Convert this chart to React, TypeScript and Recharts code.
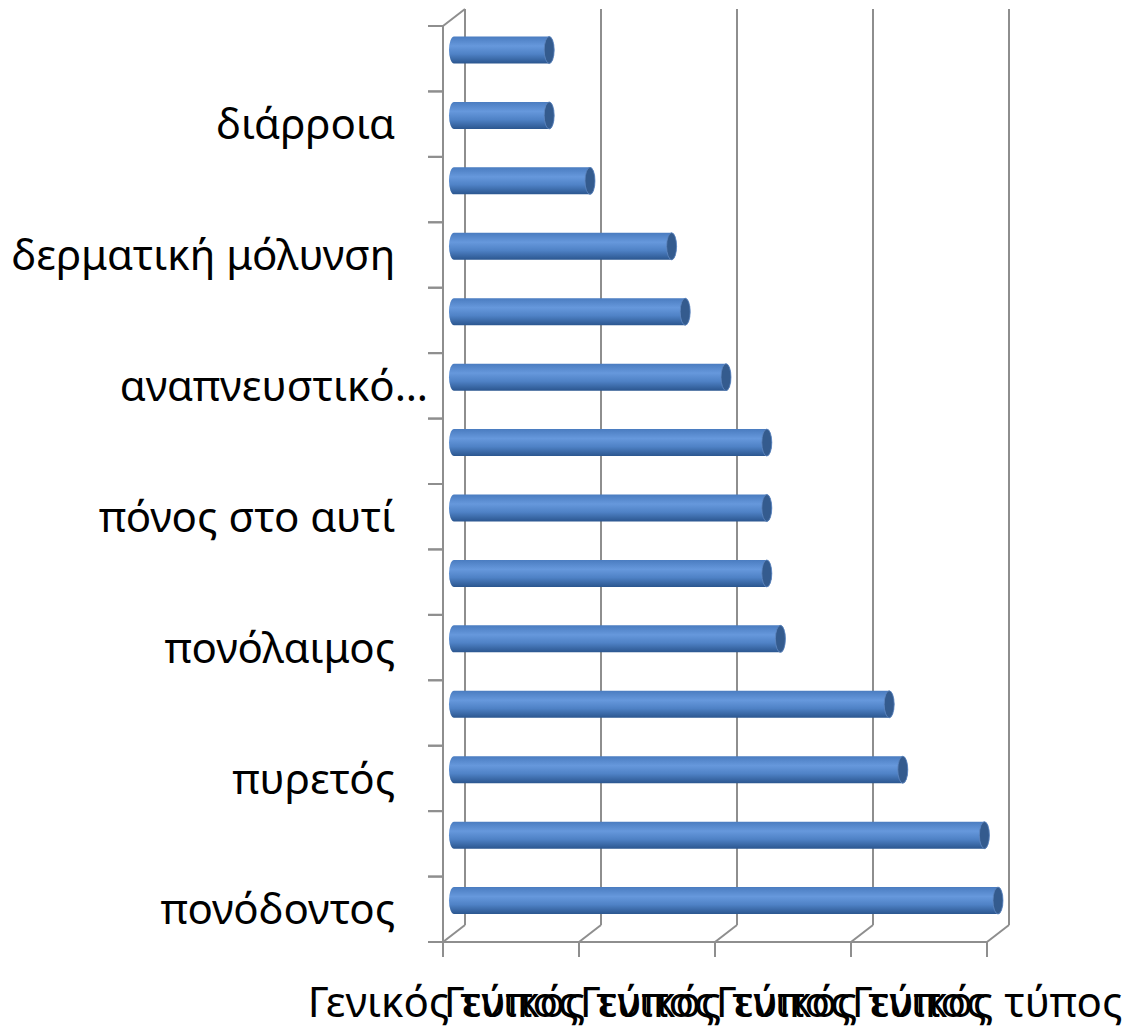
import React from 'react';
import { BarChart, Bar, XAxis, YAxis, CartesianGrid } from 'recharts';

// categories bottom to top, as in the sheet; null = label that Excel skipped
const categories: (string | null)[] = [
  'πονόδοντος\u00a0\u00a0\u00a0',
  null,
  'πυρετός\u00a0\u00a0\u00a0',
  null,
  'πονόλαιμος\u00a0\u00a0\u00a0',
  null,
  'πόνος στο αυτί\u00a0\u00a0\u00a0',
  null,
  'αναπνευστικό…',
  null,
  'δερματική μόλυνση\u00a0\u00a0\u00a0',
  null,
  'διάρροια\u00a0\u00a0\u00a0',
  null,
];
const values = [40, 39, 33, 32, 24, 23, 23, 23, 20, 17, 16, 10, 7, 7];
const xTicks = [0, 10, 20, 30, 40];
const xTickLabel = 'Γενικός τύπος';

const data = values.map((value, id) => ({ id, value }));

const FONT = '"Noto Sans", sans-serif';
const GRID = '#8e8e8e';
// 3d depth of the walls, and half of it for the bars
const DX = 22;
const DY = -17;

const gridLine = (p: any) => {
  const { x1, y1, y2, index } = p;
  return (
    <g key={`v-${index}`}>
      <line x1={x1 + DX} y1={y1 + DY} x2={x1 + DX} y2={y2 + DY} stroke={GRID} strokeWidth={2} />
      <line x1={x1} y1={y2} x2={x1 + DX} y2={y2 + DY} stroke={GRID} strokeWidth={2} />
      {index === 0 && (
        <line x1={x1} y1={y1} x2={x1 + DX} y2={y1 + DY} stroke={GRID} strokeWidth={2} />
      )}
    </g>
  );
};

const CategoryTick = (props: any) => {
  const { x, y, payload } = props;
  const half = payload.offset ?? 32.7;
  const label = categories[payload.value];
  return (
    <g>
      <line x1={x} y1={y - half} x2={x + 15} y2={y - half} stroke={GRID} strokeWidth={2} />
      <line x1={x} y1={y + half} x2={x + 15} y2={y + half} stroke={GRID} strokeWidth={2} />
      {label && (
        <text x={x} y={y} dy="0.36em" textAnchor="end" fill="#000" fontSize={42} fontFamily={FONT}>
          {label}
        </text>
      )}
    </g>
  );
};

const Cylinder = (props: any) => {
  const { x, y, width, height } = props;
  const rx = 5;
  const x0 = x + DX / 2;
  const x1 = x + width + DX / 2;
  const top = y + DY / 2;
  const bot = top + height;
  const ry = height / 2;
  const d = `M${x0},${top} L${x1},${top} A${rx},${ry} 0 0 1 ${x1},${bot} L${x0},${bot} A${rx},${ry} 0 0 1 ${x0},${top} Z`;
  return (
    <g>
      <defs>
        <linearGradient id="barGrad" x1="0" y1="0" x2="0" y2="1">
          <stop offset="0%" stopColor="#4a7cc0" />
          <stop offset="35%" stopColor="#6698dc" />
          <stop offset="65%" stopColor="#4f82c6" />
          <stop offset="100%" stopColor="#2b568f" />
        </linearGradient>
      </defs>
      <path d={d} fill="url(#barGrad)" />
      <ellipse cx={x1} cy={top + ry} rx={rx} ry={ry} fill="#345b8e" stroke="#5f88c2" strokeWidth={0.8} />
    </g>
  );
};

export default function App() {
  return (
    <div style={{ position: 'absolute', left: 0, top: 0, background: '#fff' }}>
      <BarChart
        width={1122}
        height={1028}
        data={data}
        layout="vertical"
        margin={{ top: 26, right: 135, bottom: 26, left: 0 }}
        barSize={27}
      >
        <CartesianGrid horizontal={false} vertical={gridLine} />
        <XAxis
          type="number"
          domain={[0, 40]}
          ticks={xTicks}
          interval={0}
          tickFormatter={() => xTickLabel}
          height={60}
          tickSize={15}
          tickMargin={30}
          axisLine={{ stroke: GRID, strokeWidth: 2 }}
          tickLine={{ stroke: GRID, strokeWidth: 2 }}
          tick={{ fill: '#000', fontSize: 42, fontFamily: FONT }}
        />
        <YAxis
          type="category"
          dataKey="id"
          reversed
          width={443}
          interval={0}
          tickLine={false}
          tickSize={15}
          tickMargin={0}
          axisLine={{ stroke: GRID, strokeWidth: 2 }}
          tick={<CategoryTick />}
        />
        <Bar dataKey="value" shape={<Cylinder />} isAnimationActive={false} />
      </BarChart>
    </div>
  );
}
